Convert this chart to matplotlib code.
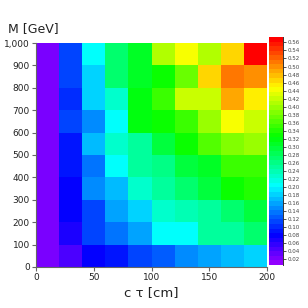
import colorsys
import numpy as np
import matplotlib
matplotlib.use("Agg")
import matplotlib.pyplot as plt
from matplotlib.colors import ListedColormap, Normalize
from matplotlib.ticker import StrMethodFormatter, MultipleLocator

# bin edges
ctau_edges = [0, 20, 40, 60, 80, 100, 120, 140, 160, 180, 200]
mass_edges = [0, 100, 200, 300, 400, 500, 600, 700, 800, 900, 1000]

# efficiency values, rows from M=0-100 (bottom) to M=900-1000 (top)
row_m0 = [0.020, 0.050, 0.080, 0.095, 0.118, 0.125, 0.148, 0.155, 0.170, 0.178]
row_m1 = [0.020, 0.065, 0.110, 0.140, 0.163, 0.200, 0.200, 0.252, 0.252, 0.275]
row_m2 = [0.020, 0.080, 0.118, 0.155, 0.185, 0.230, 0.237, 0.245, 0.275, 0.290]
row_m3 = [0.020, 0.080, 0.148, 0.174, 0.222, 0.252, 0.275, 0.290, 0.335, 0.340]
row_m4 = [0.020, 0.095, 0.140, 0.200, 0.245, 0.260, 0.290, 0.310, 0.350, 0.350]
row_m5 = [0.020, 0.095, 0.170, 0.222, 0.252, 0.290, 0.335, 0.365, 0.388, 0.395]
row_m6 = [0.020, 0.110, 0.148, 0.200, 0.320, 0.325, 0.350, 0.395, 0.440, 0.425]
row_m7 = [0.020, 0.103, 0.185, 0.230, 0.320, 0.350, 0.425, 0.418, 0.485, 0.455]
row_m8 = [0.020, 0.110, 0.178, 0.267, 0.310, 0.335, 0.380, 0.470, 0.515, 0.500]
row_m9 = [0.020, 0.118, 0.200, 0.275, 0.310, 0.410, 0.440, 0.410, 0.462, 0.565]

cbar_ticks = [round(0.02 * i, 2) for i in range(1, 29)]

Z = np.array([row_m0, row_m1, row_m2, row_m3, row_m4,
              row_m5, row_m6, row_m7, row_m8, row_m9])

# ROOT-like "pretty" palette: 50 colours, hue 280 -> 0
cols = []
for i in range(50):
    h = 280 - (i + 1) * 280 / 50
    cols.append(colorsys.hls_to_rgb(h / 360.0, 0.5, 1.0))
cmap = ListedColormap(cols)
norm = Normalize(vmin=0.0058, vmax=0.5735)

fig = plt.figure(figsize=(3.08, 3.08), dpi=100)
ax = fig.add_axes([36 / 308, 41 / 308, 231 / 308, 224 / 308])
cax = fig.add_axes([269 / 308, 43 / 308, 14 / 308, 228 / 308])

mesh = ax.pcolormesh(ctau_edges, mass_edges, Z, cmap=cmap, norm=norm)
ax.set_xlim(0, 200)
ax.set_ylim(0, 1000)
for s in ["top", "right"]:
    ax.spines[s].set_visible(False)
for s in ["left", "bottom"]:
    ax.spines[s].set_color("#666666")
    ax.spines[s].set_linewidth(0.8)
ax.xaxis.set_major_locator(MultipleLocator(50))
ax.yaxis.set_major_locator(MultipleLocator(100))
ax.yaxis.set_major_formatter(StrMethodFormatter("{x:,.0f}"))
ax.tick_params(axis="both", labelsize=6.5, length=3, width=0.8,
               color="#666666", labelcolor="#222222", pad=1.5, direction="out")

cb = fig.colorbar(mesh, cax=cax)
cb.outline.set_visible(False)
cb.set_ticks(cbar_ticks)
cb.ax.yaxis.set_major_formatter(StrMethodFormatter("{x:.2f}"))
cax.tick_params(labelsize=4, length=2.5, width=0.6, color="#333333",
                labelcolor="#444444", pad=1)
cax.plot([1, 1], [0, 1], transform=cax.transAxes, color="#333333",
         lw=0.7, clip_on=False)

fig.text(8 / 308, 1 - 29 / 308, "M [GeV]", fontsize=9, ha="left",
         va="center", color="#222222")
fig.text(151 / 308, 1 - 293 / 308, "c τ [cm]", fontsize=9.5, ha="center",
         va="center", color="#222222")

fig.savefig("out.png", dpi=100)
